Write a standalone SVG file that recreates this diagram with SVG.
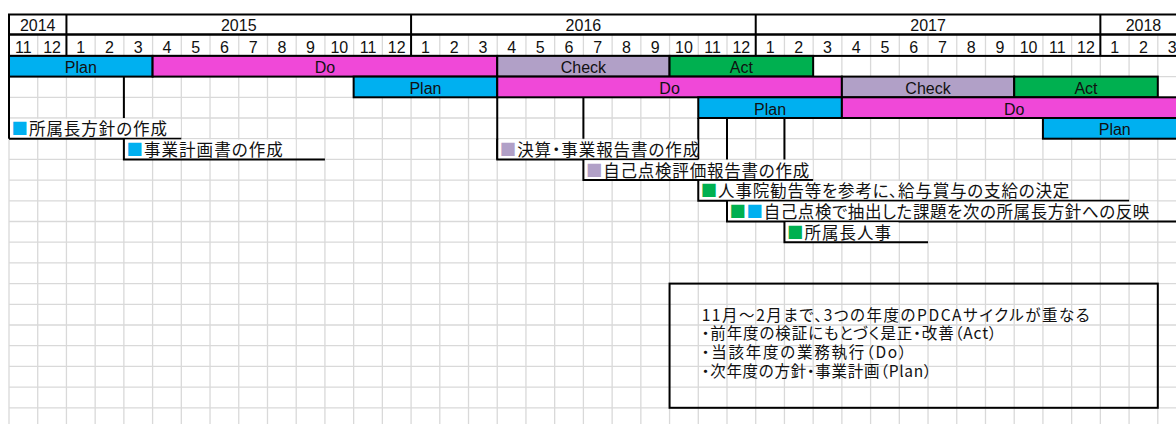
<svg xmlns="http://www.w3.org/2000/svg" width="1176" height="424" viewBox="0 0 1176 424">
<style>
.grid{stroke:#d9d9d9;stroke-width:1.3;fill:none}
.blk{stroke:#000;stroke-width:2;fill:none}
.bar{stroke:#000;stroke-width:2}
.plan{fill:#00B0F0}.do{fill:#F048D8}.check{fill:#B1A0C7}.act{fill:#00B050}
.mask{fill:#fff}
.hd{font-family:"Liberation Sans",Arial,sans-serif;font-size:16px;fill:#111;text-anchor:middle}
.bl{font-family:"Liberation Sans",Arial,sans-serif;font-size:16px;fill:#111;text-anchor:middle}
.jp{font-family:"Noto Sans CJK JP","Noto Sans CJK SC",sans-serif;font-size:16.5px;fill:#111;font-feature-settings:"palt"}
.note{font-family:"Noto Sans CJK JP","Noto Sans CJK SC",sans-serif;font-size:15.5px;fill:#111;font-feature-settings:"palt"}
.sb{fill:#00B0F0}.sp{fill:#B1A0C7}.sg{fill:#00B050}
</style>
<rect width="1176" height="424" fill="#fff"/>
<g id="grid">
<path class="grid" d="M37.72 34.5V424M66.44 34.5V424M95.16 34.5V424M123.88 34.5V424M152.6 34.5V424M181.32 34.5V424M210.04 34.5V424M238.76 34.5V424M267.48 34.5V424M296.2 34.5V424M324.92 34.5V424M353.64 34.5V424M382.36 34.5V424M411.08 34.5V424M439.8 34.5V424M468.52 34.5V424M497.24 34.5V424M525.96 34.5V424M554.68 34.5V424M583.4 34.5V424M612.12 34.5V424M640.84 34.5V424M669.56 34.5V424M698.28 34.5V424M727 34.5V424M755.72 34.5V424M784.44 34.5V424M813.16 34.5V424M841.88 34.5V424M870.6 34.5V424M899.32 34.5V424M928.04 34.5V424M956.76 34.5V424M985.48 34.5V424M1014.2 34.5V424M1042.92 34.5V424M1071.64 34.5V424M1100.36 34.5V424M1129.08 34.5V424M1157.8 34.5V424M9 138.7V424"/>
<path class="grid" d="M9 55.9H1176M9 76.6H1176M9 97.3H1176M9 118H1176M9 138.7H1176M9 159.4H1176M9 180.1H1176M9 200.8H1176M9 221.5H1176M9 242.2H1176M9 262.9H1176M9 283.6H1176M9 304.3H1176M9 325H1176M9 345.7H1176M9 366.4H1176M9 387.1H1176M9 407.8H1176"/>
</g>
<g id="header">
<rect x="9" y="14.5" width="1190" height="20" fill="#fff" class="blk"/>
<rect x="9" y="34.5" width="1190" height="21.4" class="blk"/>
<path class="blk" d="M66.44 14.5V55.9M411.08 14.5V55.9M755.72 14.5V55.9M1100.36 14.5V55.9"/>
<text class="hd" x="37.72" y="30.7">2014</text>
<text class="hd" x="238.76" y="30.7">2015</text>
<text class="hd" x="583.4" y="30.7">2016</text>
<text class="hd" x="928.04" y="30.7">2017</text>
<text class="hd" x="1143.44" y="30.7">2018</text>
<g>
<text class="hd" x="23.36" y="53.3">11</text><text class="hd" x="52.08" y="53.3">12</text><text class="hd" x="80.8" y="53.3">1</text><text class="hd" x="109.52" y="53.3">2</text><text class="hd" x="138.24" y="53.3">3</text><text class="hd" x="166.96" y="53.3">4</text><text class="hd" x="195.68" y="53.3">5</text><text class="hd" x="224.4" y="53.3">6</text><text class="hd" x="253.12" y="53.3">7</text><text class="hd" x="281.84" y="53.3">8</text><text class="hd" x="310.56" y="53.3">9</text><text class="hd" x="339.28" y="53.3">10</text><text class="hd" x="368" y="53.3">11</text><text class="hd" x="396.72" y="53.3">12</text>
<text class="hd" x="425.44" y="53.3">1</text><text class="hd" x="454.16" y="53.3">2</text><text class="hd" x="482.88" y="53.3">3</text><text class="hd" x="511.6" y="53.3">4</text><text class="hd" x="540.32" y="53.3">5</text><text class="hd" x="569.04" y="53.3">6</text><text class="hd" x="597.76" y="53.3">7</text><text class="hd" x="626.48" y="53.3">8</text><text class="hd" x="655.2" y="53.3">9</text><text class="hd" x="683.92" y="53.3">10</text><text class="hd" x="712.64" y="53.3">11</text><text class="hd" x="741.36" y="53.3">12</text>
<text class="hd" x="770.08" y="53.3">1</text><text class="hd" x="798.8" y="53.3">2</text><text class="hd" x="827.52" y="53.3">3</text><text class="hd" x="856.24" y="53.3">4</text><text class="hd" x="884.96" y="53.3">5</text><text class="hd" x="913.68" y="53.3">6</text><text class="hd" x="942.4" y="53.3">7</text><text class="hd" x="971.12" y="53.3">8</text><text class="hd" x="999.84" y="53.3">9</text><text class="hd" x="1028.56" y="53.3">10</text><text class="hd" x="1057.28" y="53.3">11</text><text class="hd" x="1086" y="53.3">12</text>
<text class="hd" x="1114.72" y="53.3">1</text><text class="hd" x="1143.44" y="53.3">2</text><text class="hd" x="1172.16" y="53.3">3</text>
</g>
</g>
<g id="cycle-2015">
<rect class="bar plan" x="9" y="55.9" width="143.6" height="20.7"/><text class="bl" x="80.8" y="73.1">Plan</text>
<rect class="bar do" x="152.6" y="55.9" width="344.64" height="20.7"/><text class="bl" x="324.92" y="73.1">Do</text>
<rect class="bar check" x="497.24" y="55.9" width="172.32" height="20.7"/><text class="bl" x="583.4" y="73.1">Check</text>
<rect class="bar act" x="669.56" y="55.9" width="143.6" height="20.7"/><text class="bl" x="741.36" y="73.1">Act</text>
</g>
<g id="cycle-2016">
<rect class="bar plan" x="353.64" y="76.6" width="143.6" height="20.7"/><text class="bl" x="425.44" y="93.8">Plan</text>
<rect class="bar do" x="497.24" y="76.6" width="344.64" height="20.7"/><text class="bl" x="669.56" y="93.8">Do</text>
<rect class="bar check" x="841.88" y="76.6" width="172.32" height="20.7"/><text class="bl" x="928.04" y="93.8">Check</text>
<rect class="bar act" x="1014.2" y="76.6" width="143.6" height="20.7"/><text class="bl" x="1086" y="93.8">Act</text>
</g>
<g id="cycle-2017">
<rect class="bar plan" x="698.28" y="97.3" width="143.6" height="20.7"/><text class="bl" x="770.08" y="114.5">Plan</text>
<rect class="bar do" x="841.88" y="97.3" width="344.64" height="20.7"/><text class="bl" x="1014.2" y="114.5">Do</text>
</g>
<g id="cycle-2018">
<rect class="bar plan" x="1042.92" y="118" width="143.6" height="20.7"/><text class="bl" x="1114.72" y="135.2">Plan</text>
</g>
<g id="connectors">
<path class="blk" d="M9 14.5V138.7M123.88 76.6V118M497.24 97.3V159.4M583.4 97.3V138.7M698.28 118V159.4M727 118V159.4M784.44 118V159.4"/>
</g>
<g id="task-1">
<rect class="mask" x="10" y="118.8" width="170.6" height="19.2"/>
<path class="blk" d="M9 138.7H181.32"/>
<text class="jp" x="11.5" y="135.2" textLength="155.5" lengthAdjust="spacing"><tspan class="sb">■</tspan>所属長方針の作成</text>
</g>
<g id="task-2">
<rect class="mask" x="124.6" y="139.5" width="170.9" height="19.2"/>
<path class="blk" d="M123.88 138.7V159.4H324.92"/>
<text class="jp" x="126.4" y="155.9" textLength="156.3" lengthAdjust="spacing"><tspan class="sb">■</tspan>事業計画書の作成</text>
</g>
<g id="task-3">
<rect class="mask" x="498" y="139.5" width="199.6" height="19.2"/>
<path class="blk" d="M497.24 138.7V159.4H698.28"/>
<text class="jp" x="499.7" y="155.9" textLength="199.6" lengthAdjust="spacing"><tspan class="sp">■</tspan>決算・事業報告書の作成</text>
</g>
<g id="task-4">
<rect class="mask" x="584.1" y="160.2" width="228.4" height="19.2"/>
<path class="blk" d="M583.4 159.4V180.1H813.16"/>
<text class="jp" x="585.9" y="176.6" textLength="223.4" lengthAdjust="spacing"><tspan class="sp">■</tspan>自己点検評価報告書の作成</text>
</g>
<g id="task-5">
<rect class="mask" x="699" y="180.9" width="372" height="19.2"/>
<path class="blk" d="M698.28 180.1V200.8H1129.08"/>
<text class="jp" x="700.8" y="197.3" textLength="368.5" lengthAdjust="spacing"><tspan class="sg">■</tspan>人事院勧告等を参考に、給与賞与の支給の決定</text>
</g>
<g id="task-6">
<rect class="mask" x="727.7" y="201.6" width="429.4" height="19.2"/>
<path class="blk" d="M727 200.8V221.5H1176"/>
<text class="jp" x="729.5" y="218" textLength="419.8" lengthAdjust="spacing"><tspan class="sg">■</tspan><tspan class="sb">■</tspan>自己点検で抽出した課題を次の所属長方針への反映</text>
</g>
<g id="task-7">
<rect class="mask" x="785.2" y="222.3" width="113.4" height="19.2"/>
<path class="blk" d="M784.44 221.5V242.2H928.04"/>
<text class="jp" x="787" y="238.7" textLength="104" lengthAdjust="spacing"><tspan class="sg">■</tspan>所属長人事</text>
</g>
<g id="note">
<rect class="blk" x="669.56" y="283.6" width="488.24" height="124.2"/>
<text class="note" x="701.7" y="320.5" textLength="388" lengthAdjust="spacing">11月～2月まで、3つの年度のPDCAサイクルが重なる</text>
<text class="note" x="701.7" y="339.2" textLength="295" lengthAdjust="spacing">・前年度の検証にもとづく是正・改善（Act）</text>
<text class="note" x="701.7" y="357.9" textLength="205" lengthAdjust="spacing">・当該年度の業務執行（Do）</text>
<text class="note" x="701.7" y="376.6" textLength="230" lengthAdjust="spacing">・次年度の方針・事業計画（Plan）</text>
</g>
</svg>
